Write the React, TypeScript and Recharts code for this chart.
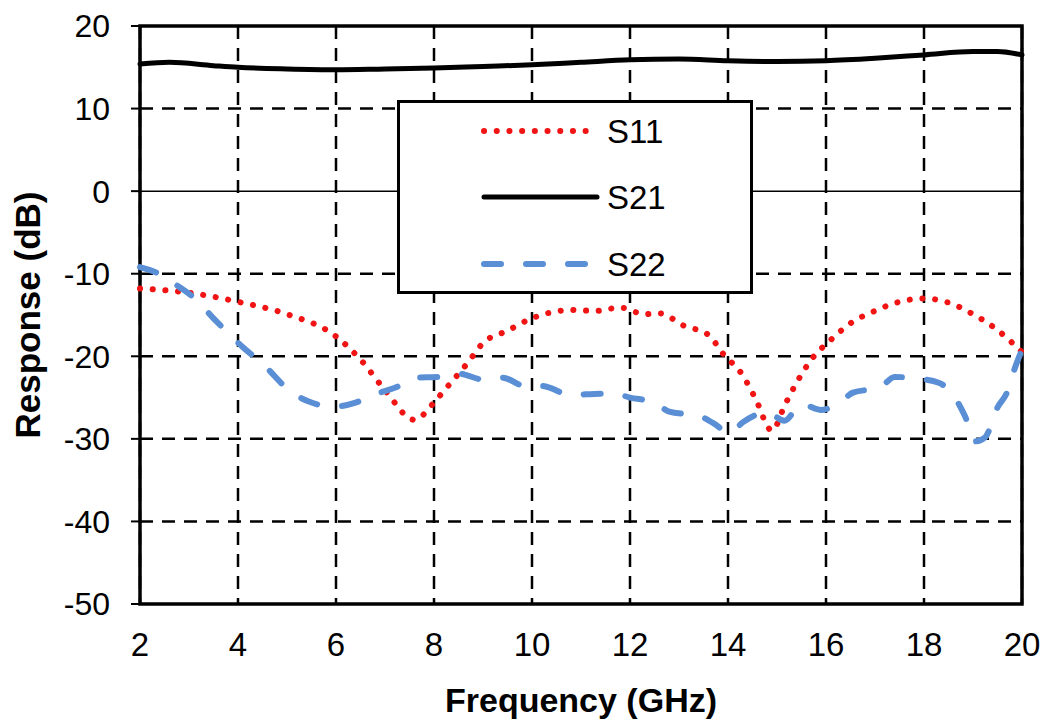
import React from 'react';
import { LineChart, Line, XAxis, YAxis, CartesianGrid, ReferenceLine, ReferenceArea, Legend } from 'recharts';

const xTicks = [2, 4, 6, 8, 10, 12, 14, 16, 18, 20];
const yTicks = [-50, -40, -30, -20, -10, 0, 10, 20];
const gridY = [-40, -30, -20, -10, 10];

const s11Freq = [2, 3, 4, 5, 6, 6.5, 7, 7.6, 8, 8.2, 8.7, 9, 9.5, 10, 10.8, 11.3, 11.8, 12.3, 12.6, 13.1, 13.6, 13.9, 14.3, 14.55, 14.9, 15.16, 15.4, 15.7, 16.1, 16.5, 17, 17.5, 18, 18.5, 19, 19.45, 20];
const s11Val = [-11.8, -12.3, -13.4, -14.9, -17.6, -20.4, -24.1, -27.7, -25.6, -24.2, -20.7, -18.4, -16.9, -15.4, -14.4, -14.5, -14.1, -14.9, -14.8, -16.3, -17.4, -19.7, -22.3, -25.0, -29.0, -25.9, -23.2, -20.4, -18.0, -16.0, -14.5, -13.4, -13.0, -13.5, -14.9, -16.6, -19.5];

const s21Freq = [2, 2.6, 3.5, 4, 5, 6, 7, 8, 9, 10, 11, 12, 13, 14, 15, 16, 17, 18, 19, 19.5, 20];
const s21Val = [15.4, 15.6, 15.2, 15.0, 14.8, 14.7, 14.8, 14.9, 15.1, 15.3, 15.6, 15.9, 16.0, 15.8, 15.7, 15.8, 16.1, 16.5, 16.9, 16.9, 16.5];

const s22Freq = [2, 2.35, 2.8, 3.1, 3.5, 4.1, 4.5, 5.1, 5.5, 5.95, 6.4, 6.8, 7.25, 7.6, 8.1, 8.5, 9, 9.4, 9.9, 10.2, 10.8, 11.1, 11.65, 12, 12.5, 12.8, 13.4, 13.7, 14.04, 14.3, 14.8, 15.15, 15.5, 15.9, 16.3, 16.55, 17.1, 17.4, 17.86, 18.3, 18.63, 18.84, 19.05, 19.25, 19.5, 19.7, 19.85, 20];
const s22Val = [-9.2, -9.9, -11.6, -12.9, -15.4, -18.9, -20.9, -24.4, -25.6, -26.1, -25.6, -24.6, -23.7, -22.6, -22.5, -22.1, -22.8, -22.6, -23.7, -23.6, -24.7, -24.6, -24.5, -25.0, -25.6, -26.7, -27.2, -28.1, -29.3, -28.0, -26.8, -27.8, -25.8, -26.5, -25.5, -24.4, -23.8, -22.5, -22.7, -23.2, -25.0, -27.3, -30.3, -29.8, -26.2, -24.3, -21.5, -19.2];

const toRows = (f: number[], v: number[]) => f.map((x, i) => ({ f: x, v: v[i] }));

const series = [
    { name: 'S11', data: toRows(s11Freq, s11Val), color: '#f01414', width: 6, dash: '0.1 12.6' },
    { name: 'S21', data: toRows(s21Freq, s21Val), color: '#000000', width: 5, dash: undefined },
    { name: 'S22', data: toRows(s22Freq, s22Val), color: '#5a8fd6', width: 6, dash: '17 25' },
];

const font = '"Liberation Sans", Arial, sans-serif';

function LegendBox() {
    const rows = [31, 97, 164];
    return (
        <div style={{ width: 356, height: 194, boxSizing: 'border-box', border: '3.5px solid #000', background: '#fff', position: 'relative', fontFamily: font }}>
            <svg width={350} height={188} style={{ position: 'absolute', left: 0, top: 0 }}>
                {series.map((s, i) => (
                    <g key={s.name}>
                        <line x1={84} x2={197} y1={rows[i] - 3} y2={rows[i] - 3} stroke={s.color} strokeWidth={s.width}
                            strokeDasharray={s.dash} strokeLinecap="round" />
                        <text x={207} y={rows[i] - 3} dominantBaseline="central" fontSize={33} fill="#000" fontFamily={font}>{s.name}</text>
                    </g>
                ))}
            </svg>
        </div>
    );
}

export default function App() {
    return (
        <div style={{ position: 'absolute', left: 0, top: 0, background: '#fff' }}>
            <LineChart width={1051} height={725} margin={{ top: 26, right: 29, left: 0, bottom: 0 }}>
                <CartesianGrid horizontal={false} stroke="#000" strokeWidth={2.5} strokeDasharray="13 9" />
                {gridY.map((y) => (
                    <ReferenceLine key={y} y={y} stroke="#000" strokeWidth={2.5} strokeDasharray="13 9" />
                ))}
                <ReferenceLine y={0} stroke="#000" strokeWidth={1.5} />
                <XAxis
                    dataKey="f"
                    type="number"
                    domain={[2, 20]}
                    ticks={xTicks}
                    allowDuplicatedCategory={false}
                    tickLine={false}
                    axisLine={false}
                    tickSize={0}
                    tickMargin={29}
                    height={121}
                    tick={{ fill: '#000', fontSize: 33, fontFamily: font }}
                    label={{
                        content: () => (
                            <text x={581} y={712} textAnchor="middle" fontSize={34} fontWeight="bold" fontFamily={font} fill="#000">Frequency (GHz)</text>
                        ),
                    }}
                />
                <YAxis
                    type="number"
                    domain={[-50, 20]}
                    ticks={yTicks}
                    width={140}
                    tickSize={9}
                    tickMargin={21}
                    axisLine={false}
                    tickLine={{ stroke: '#000', strokeWidth: 2 }}
                    tick={{ fill: '#000', fontSize: 32, fontFamily: font }}
                    label={{
                        content: () => (
                            <text x={27} y={315} transform="rotate(-90 27 315)" textAnchor="middle" dominantBaseline="central" fontSize={35} fontWeight="bold" fontFamily={font} fill="#000">Response (dB)</text>
                        ),
                    }}
                />
                <Legend
                    layout="horizontal"
                    verticalAlign="middle"
                    align="center"
                    content={() => <LegendBox />}
                    wrapperStyle={{ position: 'absolute', left: 397, top: 100, width: 356, height: 194 }}
                />
                {series.map((s) => (
                    <Line
                        key={s.name}
                        data={s.data}
                        dataKey="v"
                        name={s.name}
                        type="monotone"
                        stroke={s.color}
                        strokeWidth={s.width}
                        strokeDasharray={s.dash}
                        strokeLinecap="round"
                        dot={false}
                        activeDot={false}
                        isAnimationActive={false}
                    />
                ))}
                <ReferenceArea x1={2} x2={20} y1={-50} y2={20} fill="none" stroke="#000" strokeWidth={3.5} ifOverflow="visible" />
            </LineChart>
        </div>
    );
}
